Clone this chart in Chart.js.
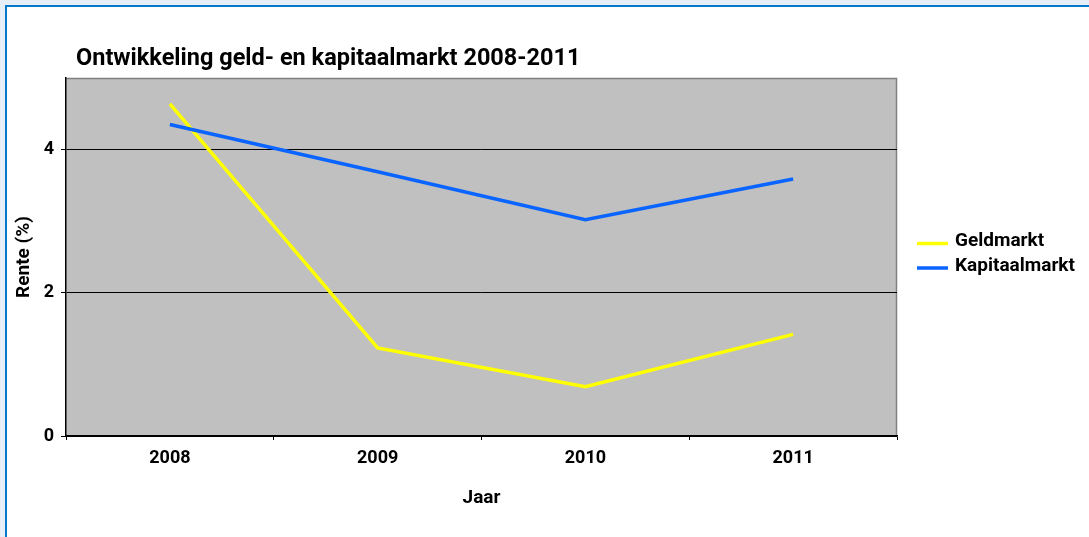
<!DOCTYPE html>
<html><head><meta charset="utf-8">
<script src="https://cdn.jsdelivr.net/npm/chart.js@4.4.0/dist/chart.umd.min.js"></script>
<style>
html,body{margin:0;padding:0;background:#E6EEF8;width:1089px;height:537px;overflow:hidden;}
#frame{position:absolute;left:5px;top:5px;width:1082px;height:530px;background:#fff;border-left:2px solid #0A78C8;border-top:2px solid #0A78C8;}
#wrap{position:absolute;left:0;top:0;width:1089px;height:537px;}
</style></head><body>
<div id="frame"></div>
<div id="wrap"><canvas id="c"></canvas></div>
<script>
const categories = ['2008', '2009', '2010', '2011'];
const geldmarkt = [4.64, 1.23, 0.69, 1.42];
const kapitaalmarkt = [4.35, 3.69, 3.02, 3.59];
const seriesNames = ['Geldmarkt', 'Kapitaalmarkt'];
const seriesColors = ['#FFFF00', '#0A64FF'];
const yTickValues = [0, 2, 4];
const titleText = 'Ontwikkeling geld- en kapitaalmarkt 2008-2011';
const xTitleText = 'Jaar';
const yTitleText = 'Rente (%)';

const FONT = 'Roboto, "Open Sans", sans-serif';

const decor = {
  id: 'decor',
  beforeDraw(chart) {
    const {ctx, chartArea: a} = chart;
    ctx.save();
    ctx.fillStyle = '#C0C0C0';
    ctx.fillRect(a.left, a.top, a.right - a.left, a.bottom - a.top);
    ctx.strokeStyle = '#808080';
    ctx.lineWidth = 1.5;
    ctx.beginPath();
    ctx.moveTo(a.left, a.top + 0.5);
    ctx.lineTo(a.right - 0.5, a.top + 0.5);
    ctx.lineTo(a.right - 0.5, a.bottom);
    ctx.stroke();
    ctx.restore();
  },
  afterDraw(chart) {
    const {ctx, chartArea: a} = chart;
    ctx.save();
    ctx.fillStyle = '#000';
    ctx.textBaseline = 'alphabetic';
    ctx.textAlign = 'left';
    ctx.font = 'bold 23.5px ' + FONT;
    ctx.fillText(titleText, a.left + 10, 65);
    // legend
    ctx.font = 'bold 19px ' + FONT;
    chart.data.datasets.forEach((ds, i) => {
      const base = 246 + i * 24.5;
      ctx.strokeStyle = ds.borderColor;
      ctx.lineWidth = 3.5;
      ctx.beginPath();
      ctx.moveTo(a.right + 20, base - 2.5);
      ctx.lineTo(a.right + 51, base - 2.5);
      ctx.stroke();
      ctx.fillText(ds.label, a.right + 58, base);
    });
    ctx.restore();
  }
};

new Chart(document.getElementById('c'), {
  type: 'line',
  data: {
    labels: categories,
    datasets: [
      {label: seriesNames[0], data: geldmarkt, borderColor: seriesColors[0], borderWidth: 3.5, pointRadius: 0, tension: 0, order: 1},
      {label: seriesNames[1], data: kapitaalmarkt, borderColor: seriesColors[1], borderWidth: 3.5, pointRadius: 0, tension: 0, order: 0}
    ]
  },
  options: {
    responsive: true,
    maintainAspectRatio: false,
    animation: false,
    layout: {padding: {left: 0, top: 78, right: 192, bottom: 27}},
    plugins: {legend: {display: false}, title: {display: false}, tooltip: {enabled: false}},
    scales: {
      x: {
        type: 'category',
        offset: true,
        grid: {display: true, drawOnChartArea: false, drawTicks: true, tickLength: 4, color: '#000', offset: true},
        border: {display: true, color: '#000', width: 1.5},
        ticks: {color: '#000', font: {family: FONT, size: 18, weight: 'bold'}, padding: 8, maxRotation: 0},
        title: {display: true, text: xTitleText, color: '#000', font: {family: FONT, size: 19, weight: 'bold'}, padding: {top: 0, bottom: 0}},
        afterFit(s) { s.height = 74; }
      },
      y: {
        min: 0, max: 5,
        grid: {color: '#000', lineWidth: 1, tickLength: 5, drawTicks: true},
        border: {display: true, color: '#000', width: 1.5},
        ticks: {color: '#000', font: {family: FONT, size: 18, weight: 'bold'}, padding: 7},
        afterBuildTicks(s) { s.ticks = yTickValues.map(v => ({value: v})); },
        title: {display: true, text: yTitleText, color: '#000', font: {family: FONT, size: 19, weight: 'bold'}, padding: {top: 13, bottom: 0}},
        afterFit(s) { s.width = 66; }
      }
    }
  },
  plugins: [decor]
});
</script>
</body></html>
